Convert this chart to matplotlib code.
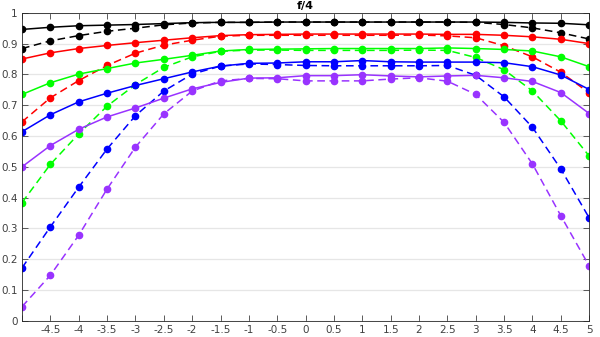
import matplotlib.pyplot as plt
import numpy as np

x = np.arange(-5, 5.01, 0.5)

# solid = one setting, dashed = the other, per colour
black_solid = [0.946, 0.953, 0.958, 0.960, 0.962, 0.965, 0.968, 0.969, 0.969, 0.970, 0.970, 0.970, 0.970, 0.970, 0.970, 0.970, 0.970, 0.969, 0.967, 0.966, 0.961]
black_dash = [0.884, 0.909, 0.926, 0.940, 0.950, 0.961, 0.967, 0.969, 0.969, 0.970, 0.970, 0.970, 0.970, 0.970, 0.970, 0.970, 0.969, 0.962, 0.951, 0.935, 0.915]
red_solid = [0.850, 0.870, 0.884, 0.894, 0.903, 0.911, 0.919, 0.926, 0.929, 0.930, 0.931, 0.931, 0.931, 0.931, 0.931, 0.930, 0.930, 0.927, 0.922, 0.914, 0.900]
red_dash = [0.646, 0.724, 0.780, 0.829, 0.869, 0.895, 0.911, 0.924, 0.927, 0.927, 0.927, 0.927, 0.927, 0.927, 0.928, 0.925, 0.919, 0.893, 0.857, 0.807, 0.740]
green_solid = [0.735, 0.773, 0.801, 0.819, 0.837, 0.849, 0.862, 0.876, 0.881, 0.882, 0.883, 0.884, 0.884, 0.884, 0.884, 0.886, 0.884, 0.881, 0.876, 0.857, 0.825]
green_dash = [0.384, 0.508, 0.607, 0.697, 0.767, 0.823, 0.857, 0.875, 0.879, 0.879, 0.878, 0.878, 0.878, 0.878, 0.879, 0.878, 0.855, 0.815, 0.746, 0.649, 0.535]
blue_solid = [0.614, 0.669, 0.711, 0.739, 0.764, 0.786, 0.808, 0.827, 0.836, 0.837, 0.841, 0.841, 0.845, 0.841, 0.840, 0.840, 0.840, 0.838, 0.825, 0.798, 0.751]
blue_dash = [0.172, 0.305, 0.434, 0.558, 0.666, 0.746, 0.801, 0.827, 0.834, 0.832, 0.829, 0.828, 0.828, 0.828, 0.828, 0.829, 0.797, 0.727, 0.628, 0.493, 0.334]
purple_solid = [0.500, 0.569, 0.622, 0.662, 0.691, 0.723, 0.753, 0.774, 0.788, 0.789, 0.796, 0.796, 0.799, 0.795, 0.792, 0.795, 0.797, 0.789, 0.777, 0.741, 0.673]
purple_dash = [0.046, 0.148, 0.278, 0.428, 0.564, 0.672, 0.746, 0.779, 0.787, 0.786, 0.779, 0.779, 0.779, 0.785, 0.789, 0.778, 0.735, 0.644, 0.509, 0.341, 0.178]

series = [
    ('k', black_solid, black_dash),
    ('#ff0000', red_solid, red_dash),
    ('#00ff00', green_solid, green_dash),
    ('#0000ff', blue_solid, blue_dash),
    ('#9933ff', purple_solid, purple_dash),
]

fig = plt.figure(figsize=(6, 3.37), dpi=100)
ax = fig.add_axes([0.0367, 0.048, 0.9453, 0.914])

for c, s, d in series:
    ax.plot(x, d, '--', color=c, lw=1.1, marker='o', ms=4.5, dashes=(5, 3))
    ax.plot(x, s, '-', color=c, lw=1.1, marker='o', ms=4.5)

ax.set_xlim(-5, 5)
ax.set_ylim(0, 1)
xt = np.arange(-5, 5.01, 0.5)
ax.set_xticks(xt)
ax.set_xticklabels([''] + ['%g' % v for v in xt[1:]])
ax.set_yticks(np.arange(0, 1.01, 0.1))
ax.set_yticklabels(['0'] + ['%g' % v for v in np.arange(0.1, 1.01, 0.1)])
ax.yaxis.grid(True, color='#e6e6e6', lw=0.9)
ax.set_axisbelow(True)
ax.tick_params(direction='in', top=True, right=True, length=4, width=0.6,
               labelsize=7.5, colors='#404040', pad=3)
for sp in ax.spines.values():
    sp.set_color('#262626')
    sp.set_linewidth(0.6)
ax.set_title('f/4', fontsize=8, fontweight='bold', pad=3)

fig.savefig('out.png', dpi=100)
